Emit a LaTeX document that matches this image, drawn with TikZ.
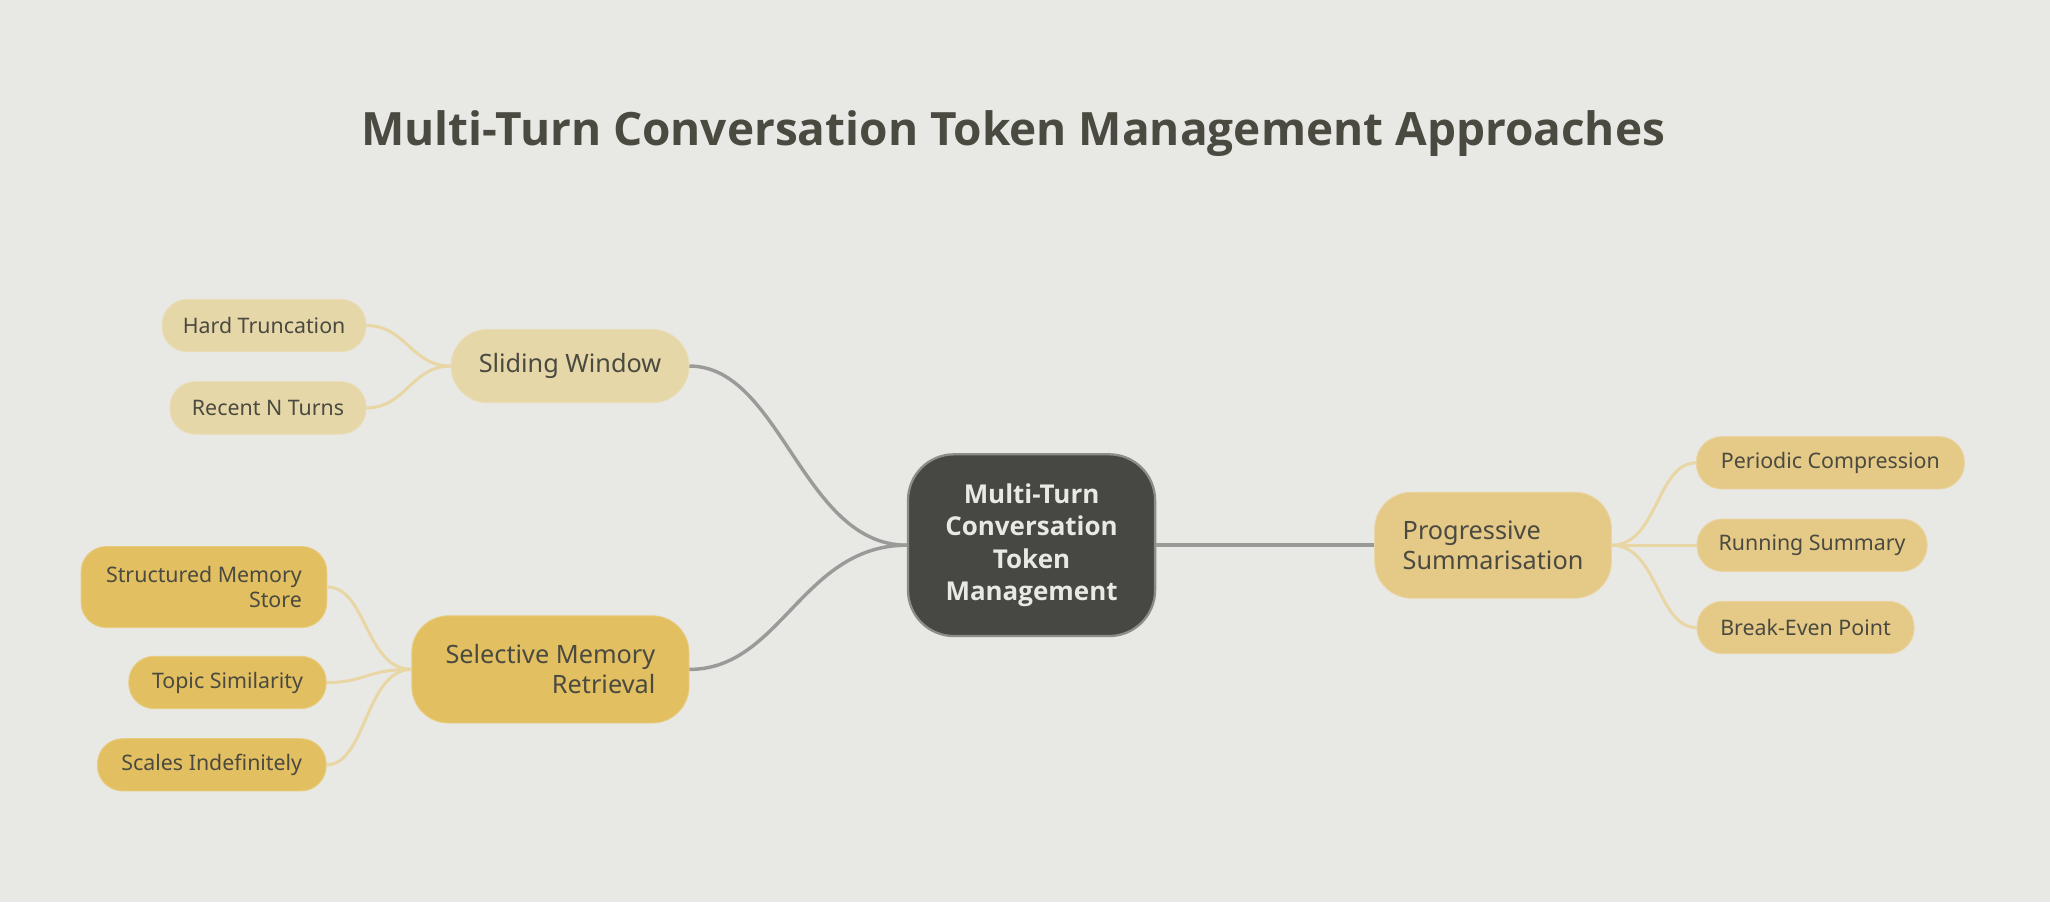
\documentclass[tikz,border=0pt]{standalone}
\usepackage{fontspec}
\setmainfont{Open Sans}
\newfontfamily\nodefont{Noto Sans}
\usetikzlibrary{positioning}

\definecolor{bgcol}{HTML}{E8E8E5}
\definecolor{darkfill}{HTML}{474843}
\definecolor{darkline}{HTML}{8C8C88}
\definecolor{txtcol}{HTML}{4A4A40}
\definecolor{paleY}{HTML}{E6D7A8}
\definecolor{midY}{HTML}{E5C987}
\definecolor{deepY}{HTML}{E2BF60}
\definecolor{mainedge}{HTML}{9A9A98}
\definecolor{leafedge}{HTML}{E8D6A4}

\begin{document}
\begin{tikzpicture}[
        x=0.02cm, y=-0.02cm,
        topic/.style={rounded corners=16pt, text=txtcol, font=\nodefont\bfseries\fontsize{11}{13}\selectfont,
            inner sep=0pt, minimum height=56*0.02cm},
        leaf/.style={rounded corners=11pt, text=txtcol, font=\nodefont\bfseries\fontsize{9.3}{11}\selectfont,
            inner sep=0pt, minimum height=40*0.02cm},
        edge/.style={mainedge, line width=1.5pt},
        twig/.style={leafedge, line width=1.3pt},
    ]
        \fill[bgcol] (0,0) rectangle (1568,690);

        \node[text=txtcol, font=\bfseries\fontsize{20}{24}\selectfont] (title) at (775,102)
            {Multi-Turn Conversation Token Management Approaches};

        % centre
        \node[draw=darkline, line width=1pt, fill=darkfill, rounded corners=20pt, text=bgcol,
              font=\bfseries\fontsize{11.3}{14}\selectfont, align=center,
              minimum width=189*0.02cm, minimum height=139*0.02cm] (ctr) at (789,417)
            {Multi-Turn\\Conversation\\Token\\Management};

        % branches
        \node[topic, fill=paleY, draw=paleY!85!white, minimum width=182*0.02cm] (sw) at (436,280) {Sliding Window};
        \node[topic, fill=deepY, draw=deepY!80!white, minimum width=212*0.02cm, minimum height=82*0.02cm,
              align=right] (smr) at (421,512) {Selective Memory\\Retrieval};
        \node[topic, fill=midY, draw=midY!80!white, minimum width=181*0.02cm, minimum height=81*0.02cm,
              align=left] (ps) at (1142,417) {Progressive\\Summarisation};

        % leaves
        \node[leaf, fill=paleY, draw=paleY!85!white, minimum width=156*0.02cm] (ht) at (202,249) {Hard Truncation};
        \node[leaf, fill=paleY, draw=paleY!85!white, minimum width=150*0.02cm] (rnt) at (205,312) {Recent N Turns};

        \node[leaf, fill=deepY, draw=deepY!80!white, minimum width=188*0.02cm, minimum height=62*0.02cm,
              align=right] (sms) at (156,449) {Structured Memory\\Store};
        \node[leaf, fill=deepY, draw=deepY!80!white, minimum width=151*0.02cm] (tsim) at (174,522) {Topic Similarity};
        \node[leaf, fill=deepY, draw=deepY!80!white, minimum width=175*0.02cm] (sci) at (162,585) {Scales Indefinitely};

        \node[leaf, fill=midY, draw=midY!80!white, minimum width=205*0.02cm] (pc) at (1400,354) {Periodic Compression};
        \node[leaf, fill=midY, draw=midY!80!white, minimum width=176*0.02cm] (rs) at (1386,417) {Running Summary};
        \node[leaf, fill=midY, draw=midY!80!white, minimum width=166*0.02cm] (bep) at (1381,480) {Break-Even Point};

        % connectors
        \draw[edge] (ctr.west) .. controls +(-80,0) and +(70,0) .. (sw.east);
        \draw[edge] (ctr.west) .. controls +(-80,0) and +(70,0) .. (smr.east);
        \draw[edge] (ctr.east) -- (ps.west);

        \draw[twig] (sw.west) .. controls +(-30,0) and +(30,0) .. (ht.east);
        \draw[twig] (sw.west) .. controls +(-30,0) and +(30,0) .. (rnt.east);
        \draw[twig] (smr.west) .. controls +(-35,0) and +(30,0) .. (sms.east);
        \draw[twig] (smr.west) .. controls +(-35,0) and +(30,0) .. (tsim.east);
        \draw[twig] (smr.west) .. controls +(-35,0) and +(30,0) .. (sci.east);
        \draw[twig] (ps.east) .. controls +(35,0) and +(-30,0) .. (pc.west);
        \draw[twig] (ps.east) -- (rs.west);
        \draw[twig] (ps.east) .. controls +(35,0) and +(-30,0) .. (bep.west);
\end{tikzpicture}
\end{document}
